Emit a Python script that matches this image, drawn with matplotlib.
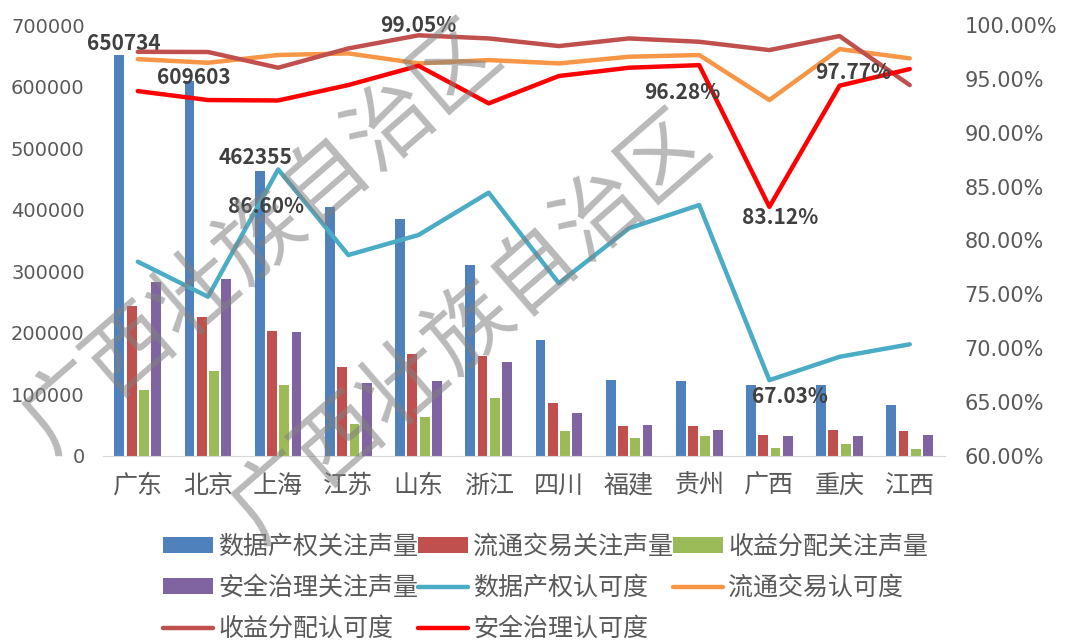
import matplotlib.pyplot as plt
import numpy as np

plt.rcParams['font.family'] = ['Noto Sans CJK SC', 'DejaVu Sans']

# Categories
provinces = ['广东', '北京', '上海', '江苏', '山东', '浙江', '四川', '福建', '贵州', '广西', '重庆', '江西']

# 关注声量 (left axis)
ownership_volume = [650734, 609603, 462355, 404000, 385000, 310500, 187800, 123000, 121000, 114700, 114700, 82300]
trade_volume = [244000, 225000, 203000, 144000, 165000, 163000, 86000, 48700, 48700, 34000, 42200, 40000]
income_volume = [106600, 138000, 115000, 51000, 63000, 94600, 40000, 29700, 32000, 13000, 19500, 10800]
security_volume = [282000, 288000, 201000, 119000, 121000, 152600, 69000, 50800, 42200, 32000, 32000, 34000]

# 认可度 in percent (right axis)
ownership_rate = [78.03, 74.78, 86.60, 78.65, 80.51, 84.44, 76.03, 81.13, 83.29, 67.03, 69.20, 70.36]
trade_rate = [96.84, 96.50, 97.22, 97.37, 96.44, 96.75, 96.44, 97.06, 97.22, 93.04, 97.77, 96.91]
income_rate = [97.52, 97.50, 96.04, 97.83, 99.05, 98.76, 98.05, 98.76, 98.45, 97.68, 98.98, 94.43]
security_rate = [93.87, 93.04, 93.00, 94.43, 96.22, 92.73, 95.27, 96.04, 96.28, 83.12, 94.37, 95.92]

bar_names = ['数据产权关注声量', '流通交易关注声量', '收益分配关注声量', '安全治理关注声量']
line_names = ['数据产权认可度', '流通交易认可度', '收益分配认可度', '安全治理认可度']

bar_colors = ['#4F81BD', '#C0504D', '#9BBB59', '#8064A2']
line_colors = ['#4BACC6', '#F79646', '#C0504D', '#FF0000']

text_color = '#595959'
label_color = '#404040'

fig = plt.figure(figsize=(10.7, 6.43), dpi=100)
ax = fig.add_axes([0.096, 0.291, 0.787, 0.670])
ax2 = ax.twinx()

x = np.arange(len(provinces))
width = 0.14
step = 0.175

handles = []
volumes = [ownership_volume, trade_volume, income_volume, security_volume]
for i, vals in enumerate(volumes):
    b = ax.bar(x + (i - 1.5) * step, vals, width, color=bar_colors[i], label=bar_names[i])
    handles.append(b)

rates = [ownership_rate, trade_rate, income_rate, security_rate]
for i, vals in enumerate(rates):
    ln, = ax2.plot(x, vals, color=line_colors[i], linewidth=3.2, label=line_names[i],
                   solid_joinstyle='round', solid_capstyle='round')
    handles.append(ln)

# Axes ranges and ticks
ax.set_xlim(-0.5, len(provinces) - 0.5)
ax.set_ylim(0, 700000)
ax.set_yticks(range(0, 700001, 100000))
ax2.set_ylim(60, 100)
ax2.set_yticks(np.arange(60, 100.1, 5))
ax2.set_yticklabels(['%.2f%%' % v for v in np.arange(60, 100.1, 5)])

ax.set_xticks(x)
ax.set_xticklabels(provinces)

for a in (ax, ax2):
    for s in a.spines.values():
        s.set_visible(False)
    a.tick_params(length=0, colors=text_color)
ax.spines['bottom'].set_visible(True)
ax.spines['bottom'].set_color('#D9D9D9')
ax.tick_params(axis='x', labelsize=18, pad=12)
ax.tick_params(axis='y', pad=13, labelsize=14, labelfontfamily='DejaVu Sans')
ax2.tick_params(axis='y', pad=14, labelsize=15, labelfontfamily='DejaVu Sans')

# Data labels
bar_labels = [(ownership_volume, 0, (3.5, 8.6)),
              (ownership_volume, 1, (3, 2)),
              (ownership_volume, 2, (-3, 10))]
for vals, idx, off in bar_labels:
    ax.annotate(str(vals[idx]), (x[idx] - 1.5 * step, vals[idx]), xytext=off,
                textcoords='offset points', ha='center', va='center',
                fontsize=15, fontweight='bold', color=label_color)

rate_labels = [(ownership_rate, 2, (-9, -27)),
               (income_rate, 4, (0, 7)),
               (security_rate, 8, (-12, -20)),
               (security_rate, 9, (8, -8)),
               (trade_rate, 10, (10, -16.5)),
               (ownership_rate, 9, (15, -12))]
for vals, idx, off in rate_labels:
    ax2.annotate('%.2f%%' % vals[idx], (x[idx], vals[idx]), xytext=off,
                 textcoords='offset points', ha='center', va='center',
                 fontsize=15, fontweight='bold', color=label_color)

# Legend, filled row by row
order = [0, 3, 6, 1, 4, 7, 2, 5]
fig.legend([handles[i] for i in order], [handles[i].get_label() for i in order],
           ncol=3, loc='upper center', bbox_to_anchor=(0.51, 0.197), frameon=False,
           fontsize=18, labelcolor=text_color, handlelength=2.0, handleheight=0.55,
           handletextpad=0.2, columnspacing=0.0, labelspacing=0.6, borderpad=0.2)

# Watermark
for cx, cy in [(0.44, 0.49), (0.245, 0.63)]:
    fig.text(cx, cy, '广西壮族自治区', rotation=41, fontsize=62, color='#808080',
             alpha=0.55, ha='center', va='center', rotation_mode='anchor', zorder=10)

fig.savefig('out.png', dpi=100)
